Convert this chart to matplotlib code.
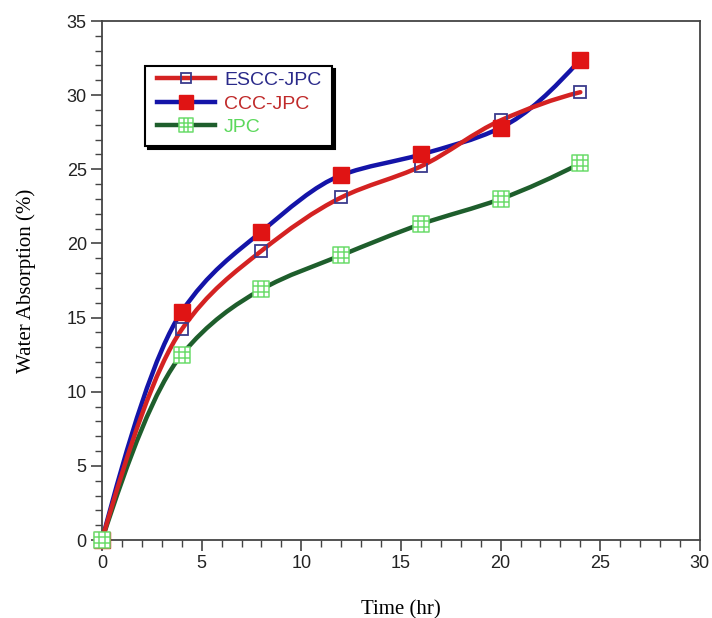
import numpy as np
import matplotlib
matplotlib.use("Agg")
import matplotlib.pyplot as plt
from matplotlib.path import Path
from matplotlib.patches import PathPatch, Rectangle
from matplotlib.lines import Line2D
from matplotlib.ticker import MultipleLocator

# values
time_hr = [0, 4, 8, 12, 16, 20, 24]
escc_jpc = [0, 14.2, 19.5, 23.1, 25.2, 28.3, 30.2]
ccc_jpc = [0, 15.4, 20.8, 24.6, 26.0, 27.8, 32.4]
jpc = [0, 12.5, 16.9, 19.2, 21.3, 23.0, 25.4]
series_names = ["ESCC-JPC", "CCC-JPC", "JPC"]


def smooth_path(x, y):
    """Smooth curve through the points as cubic Bezier segments (pchip-like slopes)."""
    x = np.asarray(x, float)
    y = np.asarray(y, float)
    h = np.diff(x)
    s = np.diff(y) / h
    d = np.zeros_like(y)
    for i in range(1, len(x) - 1):
        if s[i - 1] * s[i] > 0:
            w1, w2 = 2 * h[i] + h[i - 1], h[i] + 2 * h[i - 1]
            d[i] = (w1 + w2) / (w1 / s[i - 1] + w2 / s[i])
        else:
            d[i] = 0.5 * (s[i - 1] + s[i])
    d[0] = ((2 * h[0] + h[1]) * s[0] - h[0] * s[1]) / (h[0] + h[1])
    d[-1] = ((2 * h[-1] + h[-2]) * s[-1] - h[-1] * s[-2]) / (h[-1] + h[-2])
    verts, codes = [(x[0], y[0])], [Path.MOVETO]
    for i in range(len(x) - 1):
        verts += [(x[i] + h[i] / 3, y[i] + d[i] * h[i] / 3),
                  (x[i + 1] - h[i] / 3, y[i + 1] - d[i + 1] * h[i] / 3),
                  (x[i + 1], y[i + 1])]
        codes += [Path.CURVE4] * 3
    return Path(verts, codes)


# square with a 3x3 grid inside (Origin-style marker)
g = 1 / 3
grid_marker = Path(
    [(-1, -1), (1, -1), (1, 1), (-1, 1), (-1, -1),
     (-g, -1), (-g, 1), (g, -1), (g, 1),
     (-1, -g), (1, -g), (-1, g), (1, g)],
    [Path.MOVETO, Path.LINETO, Path.LINETO, Path.LINETO, Path.CLOSEPOLY,
     Path.MOVETO, Path.LINETO, Path.MOVETO, Path.LINETO,
     Path.MOVETO, Path.LINETO, Path.MOVETO, Path.LINETO])

styles = [
    dict(line="#d42222", marker="s", ms=8, mfc="none", mec="#3a3a8c", mew=1.3, text="#2a2a8a"),
    dict(line="#1414a8", marker="s", ms=11, mfc="#e01414", mec="#e01414", mew=1, text="#c02a2a"),
    dict(line="#1e5e2c", marker=grid_marker, ms=11, mfc="white", mec="#6cdc6c", mew=1.1, text="#5cd85c"),
]
data = [escc_jpc, ccc_jpc, jpc]
zorders = [3, 2, 2]

fig = plt.figure(figsize=(7.12, 6.18), dpi=100)
ax = fig.add_axes([0.1433, 0.1262, 0.8397, 0.8398])

handles = []
for vals, st, z in zip(data, styles, zorders):
    ax.add_patch(PathPatch(smooth_path(time_hr, vals), fill=False, edgecolor=st["line"],
                           lw=3.2, capstyle="round", zorder=z))
for vals, st in zip(data, styles):
    ax.plot(time_hr, vals, ls="none", marker=st["marker"], ms=st["ms"], mfc=st["mfc"],
            mec=st["mec"], mew=st["mew"], zorder=4, clip_on=False)
    handles.append(Line2D([], [], color=st["line"], lw=3.2, marker=st["marker"], ms=st["ms"] - 1,
                          mfc=st["mfc"], mec=st["mec"], mew=st["mew"]))

ax.set_xlim(0, 30)
ax.set_ylim(0, 35)
ax.xaxis.set_major_locator(MultipleLocator(5))
ax.xaxis.set_minor_locator(MultipleLocator(1))
ax.yaxis.set_major_locator(MultipleLocator(5))
ax.yaxis.set_minor_locator(MultipleLocator(1))
ax.tick_params(which="both", direction="out", color="#444444", top=False, right=False)
ax.tick_params(which="major", length=8, width=1.2, labelsize=13, pad=3, labelcolor="#222222")
ax.tick_params(which="minor", length=5, width=1.0)
for lab in ax.get_xticklabels() + ax.get_yticklabels():
    lab.set_family("Liberation Sans")
for sp in ax.spines.values():
    sp.set_color("#444444")
    sp.set_linewidth(1.3)

ax.set_xlabel("Time (hr)", family="Liberation Serif", fontsize=15, labelpad=20)
ax.set_ylabel("Water Absorption (%)", family="Liberation Serif", fontsize=15, labelpad=22)

# legend box drawn by hand: the reference has more room on the right than on top
bx, by, bw, bh = 0.0719, 0.7596, 0.3127, 0.1539
ax.add_patch(Rectangle((bx + 0.005, by - 0.006), bw, bh, transform=ax.transAxes,
                       facecolor="black", edgecolor="black", lw=1.5, zorder=4.9))
ax.add_patch(Rectangle((bx, by), bw, bh, transform=ax.transAxes,
                       facecolor="white", edgecolor="black", lw=1.5, zorder=5))

leg = ax.legend(handles, series_names, loc="upper left", bbox_to_anchor=(0.0819, 0.914),
                borderaxespad=0, frameon=False,
                handlelength=3.0, handletextpad=0.45, labelspacing=0.3, borderpad=0.3,
                prop={"family": "Liberation Sans", "size": 14})
leg.set_zorder(6)
for txt, st in zip(leg.get_texts(), styles):
    txt.set_color(st["text"])

fig.savefig("out.png", dpi=100)
